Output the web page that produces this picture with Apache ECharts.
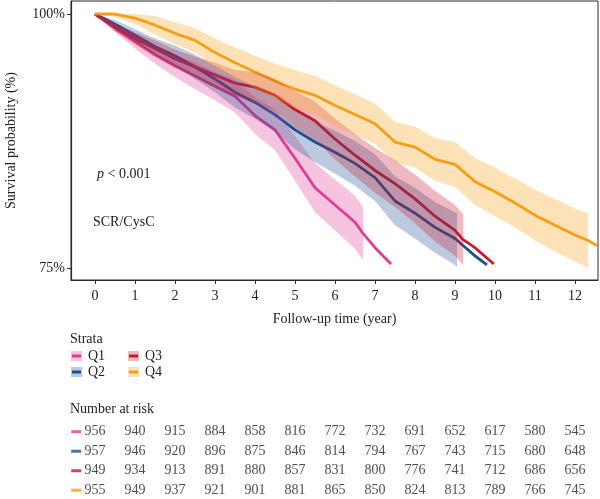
<!DOCTYPE html>
<html><head><meta charset="utf-8">
<script src="https://cdn.jsdelivr.net/npm/echarts@6/dist/echarts.min.js"></script>
<style>html,body{margin:0;padding:0;background:#fff}#c{width:600px;height:499px}</style>
</head><body><div id="c"></div>
<script>
// ---- data ----
const groups = ['Q1', 'Q2', 'Q3', 'Q4'];

const tQ1  = [0,0.5,1,1.5,2,2.5,3,3.5,4,4.5,5,5.5,6,6.5,6.7,7,7.4];
const sQ1  = [100,98.6,97.3,96.0,94.9,93.9,92.9,91.9,90.0,88.6,85.8,82.9,81.2,79.5,78.4,77.0,75.4];
const loQ1 = [100,98.2,96.6,95.1,93.8,92.6,91.5,90.3,88.2,86.6,83.6,80.5,78.7,76.9,75.8];
const hiQ1 = [100,99.0,98.0,96.9,96.0,95.2,94.3,93.5,91.8,90.6,88.0,85.3,83.7,82.1,81.0];

const tQ2  = [0,0.5,1,1.5,2,2.5,3,3.5,4,4.5,5,5.5,6,6.5,7,7.5,8,8.5,9,9.05,9.5,9.8];
const sQ2  = [100,99.0,97.9,96.8,95.9,94.8,93.6,92.3,91.3,90.1,88.6,87.4,86.4,85.3,83.9,81.6,80.4,79.0,77.9,77.8,76.2,75.3];
const loQ2 = [100,98.6,97.3,96.0,94.9,93.6,92.3,90.8,89.7,88.4,86.7,85.4,84.3,83.1,81.6,79.2,77.9,76.5,75.3,75.1];
const hiQ2 = [100,99.4,98.5,97.6,96.9,96.0,94.9,93.8,92.9,91.8,90.5,89.4,88.5,87.5,86.2,84.0,82.9,81.5,80.5,80.5];

const tQ3  = [0,0.5,1,1.5,2,2.5,3,3.5,4,4.5,5,5.5,6,6.5,7,7.5,8,8.5,9,9.2,9.5,9.97];
const sQ3  = [100,98.7,97.6,96.6,95.6,94.8,94.0,93.2,92.8,92.0,90.6,89.5,87.7,86.1,84.6,83.3,81.8,80.1,78.7,77.8,77.0,75.4];
const loQ3 = [100,98.3,97.0,95.8,94.7,93.8,92.8,91.9,91.3,90.4,88.8,87.6,85.7,84.0,82.4,81.0,79.4,77.6,76.2,75.3];
const hiQ3 = [100,99.1,98.2,97.4,96.5,95.8,95.2,94.5,94.3,93.6,92.4,91.4,89.7,88.2,86.8,85.6,84.2,82.6,81.2,80.3];

const tQ4  = [0,0.5,1,1.5,2,2.5,3,3.5,4,4.5,5,5.5,6,6.5,7,7.5,8,8.5,9,9.5,10,10.5,11,11.5,12,12.33,12.55];
const sQ4  = [100,100,99.6,98.9,98.1,97.4,96.2,95.2,94.3,93.4,92.6,92.0,91.0,90.1,89.2,87.4,86.9,85.7,85.2,83.5,82.5,81.4,80.2,79.2,78.25,77.7,77.2];
const loQ4 = [100,99.7,99.0,98.0,97.0,96.2,94.8,93.7,92.7,91.7,90.7,90.1,89.0,88.1,87.2,85.4,84.9,83.6,83.0,81.2,80.1,79.0,77.7,76.6,75.65,75.0];
const hiQ4 = [100,100,100,99.8,99.2,98.6,97.6,96.7,95.9,95.1,94.5,93.9,93.0,92.1,91.2,89.4,88.9,87.8,87.4,85.8,84.9,83.8,82.7,81.8,80.85,80.4];

const riskTimes = [0,1,2,3,4,5,6,7,8,9,10,11,12];
const riskQ1 = [956,940,915,884,858,816,772,732,691,652,617,580,545];
const riskQ2 = [957,946,920,896,875,846,814,794,767,743,715,680,648];
const riskQ3 = [949,934,913,891,880,857,831,800,776,741,712,686,656];
const riskQ4 = [955,949,937,921,901,881,865,850,824,813,789,766,745];

const xTicks = [0,1,2,3,4,5,6,7,8,9,10,11,12];
const yTicks = [75, 100];

// ---- styles ----
const colors = ['#E23C96', '#1D4E91', '#C8192D', '#F79E14'];
const bandAlpha = 0.3;
const FONT = "'Liberation Serif', 'Times New Roman', serif";
const TXT = '#222';

function rgba(hex, a) {
  const n = parseInt(hex.slice(1), 16);
  return `rgba(${(n >> 16) & 255},${(n >> 8) & 255},${n & 255},${a})`;
}

const curves = [
  { t: tQ1, s: sQ1, lo: loQ1, hi: hiQ1 },
  { t: tQ2, s: sQ2, lo: loQ2, hi: hiQ2 },
  { t: tQ3, s: sQ3, lo: loQ3, hi: hiQ3 },
  { t: tQ4, s: sQ4, lo: loQ4, hi: hiQ4 }
];
const risks = [riskQ1, riskQ2, riskQ3, riskQ4];

const series = [];
curves.forEach((c, g) => {
  series.push({
    type: 'line', name: groups[g], xAxisIndex: 0, yAxisIndex: 0,
    data: c.t.map((x, i) => [x, c.s[i]]),
    symbol: 'none', lineStyle: { color: colors[g], width: 2.8 },
    z: 2, silent: true, animation: false
  });
});
// confidence bands (polygon through the axis scales)
curves.forEach((c, g) => {
  const bandData = c.lo.map((v, i) => [c.t[i], v, c.hi[i]]);
  series.push({
    type: 'custom', xAxisIndex: 0, yAxisIndex: 0,
    data: bandData,
    encode: { x: 0, y: [1, 2] },
    clip: true, z: 3, silent: true, animation: false,
    renderItem: function (params, api) {
      if (params.dataIndex !== 0) return null;
      const pts = [];
      for (let i = 0; i < bandData.length; i++) pts.push(api.coord([bandData[i][0], bandData[i][2]]));
      for (let i = bandData.length - 1; i >= 0; i--) pts.push(api.coord([bandData[i][0], bandData[i][1]]));
      return { type: 'polygon', shape: { points: pts },
        style: { fill: rgba(colors[g], bandAlpha), stroke: null } };
    }
  });
});
// risk table numbers
risks.forEach((r, g) => {
  series.push({
    type: 'scatter', xAxisIndex: 1, yAxisIndex: 1,
    data: riskTimes.map((x, i) => [x, g, r[i]]),
    symbolSize: 1, itemStyle: { color: 'transparent' },
    label: { show: true, position: 'inside', formatter: p => String(p.value[2]),
      fontFamily: FONT, fontSize: 14, color: TXT },
    silent: true, animation: false
  });
  series.push({
    type: 'scatter', xAxisIndex: 1, yAxisIndex: 1,
    data: [[-0.47, g]], symbol: 'rect', symbolSize: [10, 3],
    itemStyle: { color: colors[g] }, silent: true, animation: false
  });
});

// legend graphics
const legendPos = [[71, 356], [71, 372], [128, 356], [128, 372]];
const graphic = [
  { type: 'text', left: 97, top: 167, style: { text: '{i|p} < 0.001', font: `14px ${FONT}`, fill: TXT,
      rich: { i: { fontStyle: 'italic', fontFamily: FONT, fontSize: 14, fill: TXT } } } },
  { type: 'text', left: 93, top: 215, style: { text: 'SCR/CysC', font: `14px ${FONT}`, fill: TXT } },
  { type: 'text', left: 70, top: 332, style: { text: 'Strata', font: `14px ${FONT}`, fill: TXT } },
  { type: 'text', left: 70, top: 402, style: { text: 'Number at risk', font: `14px ${FONT}`, fill: TXT } }
];
groups.forEach((name, g) => {
  const [x, y] = legendPos[g];
  graphic.push({ type: 'rect', shape: { x: x, y: y - 5, width: 11, height: 10 },
    style: { fill: rgba(colors[g], 0.3) } });
  graphic.push({ type: 'line', shape: { x1: x + 1, y1: y, x2: x + 10, y2: y },
    style: { stroke: colors[g], lineWidth: 3 } });
  graphic.push({ type: 'text', x: x + 17, y: y, style: { text: name, font: `14px ${FONT}`, fill: TXT,
    textVerticalAlign: 'middle' } });
});

const chart = echarts.init(document.getElementById('c'), null, { renderer: 'canvas' });
chart.setOption({
  backgroundColor: '#fff',
  animation: false,
  textStyle: { fontFamily: FONT },
  grid: [
    { left: 71, right: 2, top: 1, bottom: 219, show: true, borderColor: '#2a2a2a', borderWidth: 1,
      backgroundColor: 'transparent', containLabel: false, outerBoundsMode: 'none' },
    { left: 71, right: 2, top: 422, height: 78, containLabel: false, outerBoundsMode: 'none' }
  ],
  xAxis: [
    { type: 'value', gridIndex: 0, min: -0.6, max: 12.575,
      axisLine: { show: true, onZero: false, lineStyle: { color: '#2a2a2a', width: 1.2 } },
      axisTick: { show: true, customValues: xTicks, length: 4, lineStyle: { color: '#2a2a2a' } },
      axisLabel: { show: true, customValues: xTicks, fontFamily: FONT, fontSize: 14, color: TXT, margin: 9 },
      splitLine: { show: false },
      name: 'Follow-up time (year)', nameLocation: 'middle', nameGap: 32,
      nameTextStyle: { fontFamily: FONT, fontSize: 14, color: TXT } },
    { type: 'value', gridIndex: 1, min: -0.6, max: 12.575, show: false }
  ],
  yAxis: [
    { type: 'value', gridIndex: 0, min: 73.82, max: 101.28,
      axisLine: { show: true, onZero: false, lineStyle: { color: '#2a2a2a', width: 1.2 } },
      axisTick: { show: true, customValues: yTicks, length: 4, lineStyle: { color: '#2a2a2a' } },
      axisLabel: { show: true, customValues: yTicks, formatter: v => v + '%',
        fontFamily: FONT, fontSize: 14, color: TXT, margin: 6 },
      splitLine: { show: false },
      name: 'Survival probability (%)', nameLocation: 'middle', nameGap: 53,
      nameTextStyle: { fontFamily: FONT, fontSize: 14, color: TXT } },
    { type: 'category', gridIndex: 1, data: groups, inverse: true, show: false }
  ],
  graphic: graphic,
  series: series
});
</script>
</body></html>
